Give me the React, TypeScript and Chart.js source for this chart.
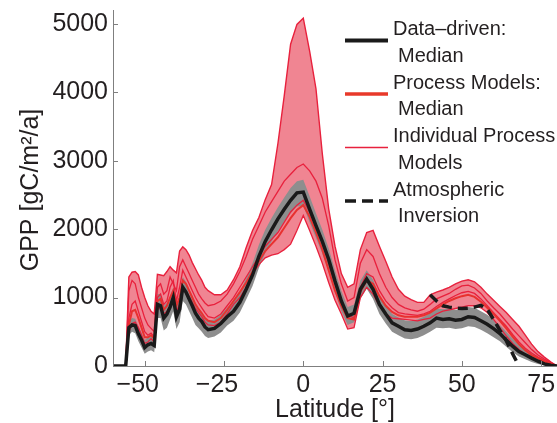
import React, { useEffect, useRef } from 'react';
import { Chart, registerables } from 'chart.js';

Chart.register(...registerables);

// Latitude grid (degrees)
const LAT = [-60, -57, -56, -55, -54, -53, -52, -51, -50, -49, -48, -47, -46, -45, -44, -43, -42, -41, -40, -39, -38, -37, -36, -35, -34, -33, -32, -31, -30,
  -28, -26, -24, -22, -20, -18, -16, -14, -12, -10, -8, -6, -4, -2, 0, 2, 4, 6, 8, 10, 12, 14, 16, 18, 20, 22, 24, 26, 28, 30, 32, 34, 36, 38, 40, 42, 44, 46, 48, 50, 52, 54, 56, 58, 60, 62, 64, 66, 68, 70, 72, 74, 76, 78, 80];

// Data-driven median
const DATA_MEDIAN = [0, 0, 0, 560, 600, 590, 470, 380, 270, 310, 330, 300, 900, 880, 700, 760, 860, 1000, 720, 830, 1150, 1080, 980, 880, 770, 700, 650, 570, 530,
  550, 620, 720, 800, 930, 1120, 1330, 1600, 1820, 1990, 2150, 2290, 2420, 2530, 2540, 2290, 2050, 1820, 1560, 1240, 950, 730, 770, 1120, 1270, 1120, 900, 760, 630, 580, 530, 520, 540, 580, 630, 700, 680, 690, 670, 680, 720, 710, 660, 610, 545, 475, 380, 290, 210, 165, 115, 70, 30, 10, 0];

// Data-driven range (grey band)
const DATA_HIGH = [0, 0, 0, 650, 700, 690, 580, 490, 380, 420, 440, 420, 1050, 1050, 880, 920, 1020, 1150, 900, 1000, 1300, 1230, 1130, 1030, 920, 840, 790, 700, 660,
  680, 750, 850, 940, 1080, 1280, 1500, 1770, 1990, 2160, 2320, 2460, 2600, 2700, 2720, 2480, 2230, 1990, 1720, 1400, 1100, 860, 900, 1250, 1400, 1260, 1040, 890, 760, 710, 670, 660, 680, 720, 770, 840, 830, 840, 820, 830, 860, 850, 800, 750, 680, 600, 500, 400, 310, 250, 190, 130, 80, 40, 0];
const DATA_LOW = [0, 0, 0, 450, 500, 480, 360, 270, 180, 210, 230, 200, 700, 700, 520, 560, 680, 800, 540, 640, 950, 900, 800, 700, 600, 550, 500, 440, 410,
  430, 490, 590, 660, 780, 970, 1170, 1430, 1650, 1820, 1970, 2100, 2230, 2330, 2340, 2100, 1870, 1640, 1380, 1080, 800, 600, 640, 980, 1130, 980, 760, 620, 500, 450, 400, 390, 410, 450, 500, 560, 550, 560, 540, 550, 580, 570, 530, 480, 420, 360, 280, 200, 140, 100, 60, 30, 10, 0, 0];

// Process models: envelope (max / min models)
const MODEL_MAX = [0, 0, 0, 1300, 1370, 1380, 1330, 1150, 1000, 880, 800, 760, 1340, 1330, 1320, 1380, 1450, 1400, 1360, 1680, 1740, 1700, 1620, 1510, 1420, 1330, 1250, 1150, 1100,
  1040, 1040, 1110, 1260, 1450, 1730, 1980, 2170, 2430, 2650, 3250, 3950, 4700, 4990, 5080, 4600, 4050, 3100, 2300, 1750, 1350, 1150, 1200, 1700, 1950, 1980, 1750, 1530, 1300, 1120, 1020, 970, 930, 930, 1040, 1080, 1110, 1150, 1200, 1240, 1260, 1230, 1150, 1050, 960, 870, 780, 680, 580, 450, 320, 210, 130, 60, 0];
const MODEL_MIN = [0, 0, 0, 500, 620, 640, 560, 450, 330, 350, 400, 350, 820, 870, 760, 800, 880, 1000, 800, 900, 1150, 1100, 1020, 930, 840, 780, 720, 640, 600,
  590, 640, 760, 900, 1000, 1150, 1350, 1480, 1580, 1620, 1640, 1700, 1780, 1980, 2200, 1980, 1750, 1500, 1220, 960, 760, 540, 560, 1000, 1150, 1050, 880, 760, 700, 690, 680, 670, 660, 680, 700, 760, 800, 820, 840, 860, 880, 880, 850, 780, 680, 560, 440, 330, 240, 170, 120, 80, 50, 25, 0];

// Individual process models
const MODEL_A = [0, 0, 0, 1100, 1250, 1200, 1000, 850, 700, 600, 550, 500, 1150, 1200, 1050, 1100, 1300, 1200, 1100, 1450, 1550, 1450, 1350, 1250, 1150, 1050, 980, 920, 880,
  900, 950, 1050, 1200, 1380, 1600, 1850, 2050, 2250, 2400, 2550, 2700, 2800, 2900, 2950, 2850, 2700, 2450, 2050, 1550, 1200, 950, 1000, 1500, 1700, 1600, 1350, 1150, 1000, 900, 850, 820, 800, 830, 900, 980, 1020, 1060, 1120, 1170, 1180, 1140, 1060, 950, 850, 760, 650, 540, 440, 340, 240, 160, 100, 50, 0];
const MODEL_B = [0, 0, 0, 700, 900, 950, 800, 650, 500, 450, 480, 420, 1000, 1050, 900, 950, 1150, 1250, 950, 1150, 1400, 1300, 1200, 1100, 1000, 920, 850, 780, 720,
  700, 760, 880, 1000, 1150, 1300, 1450, 1600, 1750, 1850, 1950, 2100, 2250, 2350, 2420, 2250, 2050, 1800, 1500, 1200, 950, 750, 700, 1150, 1350, 1300, 1100, 950, 850, 780, 760, 750, 740, 760, 800, 870, 930, 980, 1030, 1070, 1090, 1060, 980, 880, 780, 680, 580, 460, 350, 260, 190, 130, 80, 40, 0];

// Process models median
const MODEL_MEDIAN = [0, 0, 0, 600, 800, 820, 700, 560, 420, 420, 450, 400, 950, 980, 820, 880, 1000, 1100, 880, 1000, 1250, 1200, 1100, 1000, 900, 830, 770, 700, 660,
  640, 700, 820, 950, 1080, 1220, 1380, 1530, 1680, 1780, 1880, 2020, 2160, 2280, 2350, 2180, 1950, 1700, 1400, 1100, 880, 700, 680, 1080, 1250, 1200, 1020, 880, 790, 740, 720, 720, 720, 740, 780, 840, 900, 950, 990, 1020, 1040, 1010, 940, 850, 760, 660, 550, 430, 320, 230, 160, 110, 70, 35, 0];

// Atmospheric inversion
const INV_LAT = [40, 42, 44, 46, 48, 50, 52, 54, 56, 58, 60, 62, 64, 66, 68];
const INV_GPP = [1040, 950, 880, 860, 845, 840, 845, 860, 885, 830, 680, 520, 370, 180, 0];

const X_TICKS = [-50, -25, 0, 25, 50, 75];
const Y_TICKS = [0, 1000, 2000, 3000, 4000, 5000];

const LEGEND_ITEMS = [
  { lines: ['Data\u2013driven:', 'Median'], color: '#1a1a1a', width: 4, dash: [] as number[] },
  { lines: ['Process Models:', 'Median'], color: '#e8392a', width: 3.5, dash: [] as number[] },
  { lines: ['Individual Process', 'Models'], color: '#e8213d', width: 1.5, dash: [] as number[] },
  { lines: ['Atmospheric', 'Inversion'], color: '#1a1a1a', width: 3.5, dash: [11, 6] },
];

const FONT = '"Liberation Sans", Arial, Helvetica, sans-serif';
const TEXT = '#231f20';
const AXIS = '#7f7f7f';
const RED = '#e8213d';
const PINK = '#f08592';
const GREY = '#8e8e8e';

const pts = (xs: number[], ys: number[]) => xs.map((x, i) => ({ x, y: ys[i] }));

const decor = {
  id: 'decor',
  afterDraw(chart: any) {
    const { ctx, chartArea: ca, scales } = chart;
    const xs = scales.x;
    const ys = scales.y;
    ctx.save();
    // axes lines
    ctx.strokeStyle = AXIS;
    ctx.lineWidth = 1;
    ctx.beginPath();
    ctx.moveTo(ca.left + 0.5, ca.top);
    ctx.lineTo(ca.left + 0.5, ca.bottom + 0.5);
    ctx.lineTo(ca.right, ca.bottom + 0.5);
    ctx.stroke();
    // inner ticks
    ctx.beginPath();
    Y_TICKS.forEach((v) => {
      const p = Math.round(ys.getPixelForValue(v)) + 0.5;
      ctx.moveTo(ca.left, p);
      ctx.lineTo(ca.left + 5, p);
    });
    X_TICKS.forEach((v) => {
      const p = Math.round(xs.getPixelForValue(v)) + 0.5;
      ctx.moveTo(p, ca.bottom);
      ctx.lineTo(p, ca.bottom - 5);
    });
    ctx.stroke();

    // axis titles
    ctx.fillStyle = TEXT;
    ctx.font = `25px ${FONT}`;
    ctx.textAlign = 'center';
    ctx.textBaseline = 'middle';
    ctx.fillText('Latitude [\u00b0]', (ca.left + ca.right) / 2, 410);
    ctx.save();
    ctx.translate(31, (ca.top + ca.bottom) / 2 + 2);
    ctx.rotate(-Math.PI / 2);
    ctx.fillText('GPP [gC/m\u00b2/a]', 0, 0);
    ctx.restore();

    // legend
    ctx.font = `20px ${FONT}`;
    ctx.textAlign = 'left';
    ctx.textBaseline = 'alphabetic';
    LEGEND_ITEMS.forEach((it, i) => {
      const base = 35 + i * 53.5;
      const ly = base + 5.5;
      ctx.strokeStyle = it.color;
      ctx.lineWidth = it.width;
      ctx.setLineDash(it.dash);
      ctx.beginPath();
      ctx.moveTo(345, ly);
      ctx.lineTo(388, ly);
      ctx.stroke();
      ctx.setLineDash([]);
      ctx.fillStyle = TEXT;
      ctx.fillText(it.lines[0], 393, base);
      ctx.fillText(it.lines[1], 398, base + 26.7);
    });
    ctx.restore();
  },
};

export default function App() {
  const ref = useRef<HTMLCanvasElement>(null);
  useEffect(() => {
    if (!ref.current) return;
    const line = (label: string, ys: number[], color: string, width: number, order: number, extra: any = {}) => ({
      label,
      data: pts(LAT, ys),
      borderColor: color,
      borderWidth: width,
      pointRadius: 0,
      tension: 0,
      fill: false,
      order,
      ...extra,
    });
    const chart = new Chart(ref.current, {
      type: 'line',
      data: {
        datasets: [
          line('Data-driven: Median', DATA_MEDIAN, '#1a1a1a', 3.5, 0),
          {
            label: 'Atmospheric Inversion',
            data: pts(INV_LAT, INV_GPP),
            borderColor: '#1a1a1a',
            borderWidth: 3.5,
            borderDash: [10, 6],
            pointRadius: 0,
            fill: false,
            order: 1,
          },
          line('Process Models: Median', MODEL_MEDIAN, '#e8312f', 2, 2),
          line('Model A', MODEL_A, RED, 1.3, 3),
          line('Model B', MODEL_B, RED, 1.3, 4),
          line('Model max', MODEL_MAX, RED, 1.4, 5),
          line('Model min', MODEL_MIN, RED, 1.3, 6),
          line('Data high', DATA_HIGH, 'rgba(0,0,0,0)', 0, 7, { fill: '+1', backgroundColor: GREY }),
          line('Data low', DATA_LOW, 'rgba(0,0,0,0)', 0, 8),
          line('Model range high', MODEL_MAX, 'rgba(0,0,0,0)', 0, 9, { fill: '+1', backgroundColor: PINK }),
          line('Model range low', MODEL_MIN, 'rgba(0,0,0,0)', 0, 10),
        ],
      },
      options: {
        animation: false,
        responsive: false,
        maintainAspectRatio: false,
        layout: { padding: { top: 10, right: 0, left: 0, bottom: 0 } },
        plugins: {
          legend: { display: false },
          tooltip: { enabled: false },
          filler: { drawTime: 'beforeDatasetsDraw' },
        } as any,
        scales: {
          x: {
            type: 'linear',
            min: -60,
            max: 80,
            grid: { display: false, drawTicks: false, tickLength: 0 },
            border: { display: false },
            afterBuildTicks: (s: any) => { s.ticks = X_TICKS.map((v) => ({ value: v })); },
            afterFit: (s: any) => { s.height = 57; s.paddingLeft = 0; s.paddingRight = 0; },
            ticks: {
              autoSkip: false,
              maxRotation: 0,
              padding: 4,
              color: TEXT,
              font: { family: FONT, size: 25 },
              callback: (v: any) => (Number(v) < 0 ? '\u2212' + Math.abs(Number(v)) + '\u2007' : String(v)),
            },
          },
          y: {
            type: 'linear',
            min: 0,
            max: 5200,
            grid: { display: false, drawTicks: false, tickLength: 0 },
            border: { display: false },
            afterBuildTicks: (s: any) => { s.ticks = Y_TICKS.map((v) => ({ value: v })); },
            afterFit: (s: any) => { s.width = 113; s.paddingTop = 0; s.paddingBottom = 0; },
            ticks: {
              autoSkip: false,
              padding: 5,
              color: TEXT,
              font: { family: FONT, size: 25 },
              callback: (v: any) => String(v),
            },
          },
        },
      },
      plugins: [decor],
    });
    return () => chart.destroy();
  }, []);
  return (
    <div style={{ position: 'absolute', left: 0, top: 0, width: 557, height: 423, background: '#fff' }}>
      <canvas ref={ref} width={557} height={423} style={{ display: 'block' }} />
    </div>
  );
}
